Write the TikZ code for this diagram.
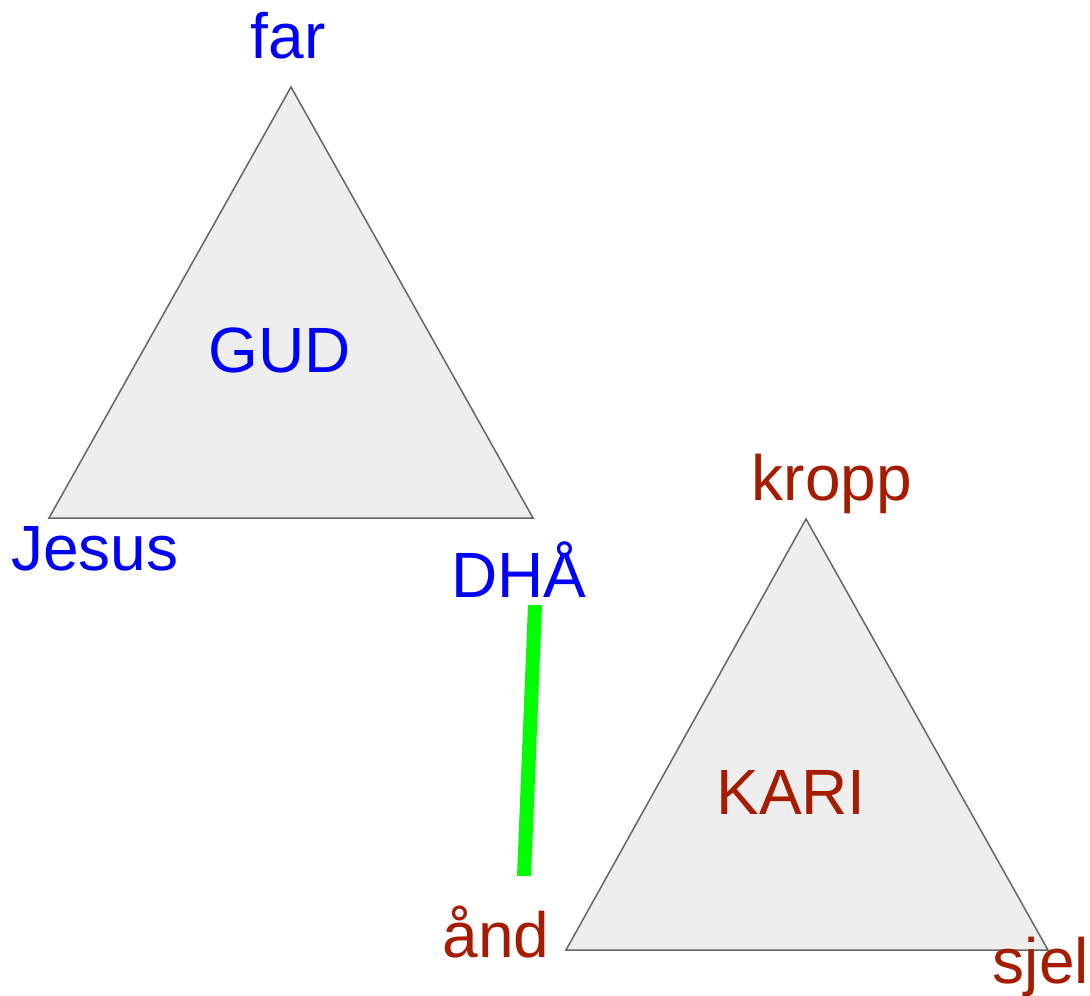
\documentclass[tikz,border=0pt]{standalone}
\usepackage{fontspec}
\setmainfont{Liberation Sans}
\definecolor{godblue}{HTML}{0000FF}
\definecolor{humanred}{HTML}{A61C00}
\definecolor{trifill}{HTML}{EEEEEE}
\definecolor{tristroke}{HTML}{666666}
\definecolor{linkgreen}{HTML}{00FF00}
\tikzset{
  tri/.style={fill=trifill, draw=tristroke, line width=1.5pt, line join=miter},
  lbl/.style={anchor=base, inner sep=0pt, font=\fontsize{64}{70}\selectfont},
  godlbl/.style={lbl, text=godblue},
  humlbl/.style={lbl, text=humanred},
  link/.style={draw=linkgreen, line width=14pt, line cap=butt}
}
\begin{document}
\begin{tikzpicture}[x=1pt,y=-1pt]
\useasboundingbox (0,0) rectangle (1090,996);
% triangle GUD
\coordinate (gA) at (291,87);
\coordinate (gL) at (49,518);
\coordinate (gR) at (533,518);
\path[tri] (gA) -- (gL) -- (gR) -- cycle;
% triangle KARI
\coordinate (kA) at (806,519);
\coordinate (kL) at (566,950);
\coordinate (kR) at (1048,950);
\path[tri] (kA) -- (kL) -- (kR) -- cycle;
% labels
\node[godlbl] (far) at (288,58) {far};
\node[godlbl] (gud) at (280,372) {GUD};
\node[godlbl] (jesus) at (95,570) {Jesus};
\node[godlbl] (dha) at (519,597) {DHÅ};
\node[humlbl] (kropp) at (832,500) {kropp};
\node[humlbl] (kari) at (791,814) {KARI};
\node[humlbl] (and) at (496,957) {ånd};
\node[humlbl] (sjel) at (1041,983) {sjel};
% link
\coordinate (linkTop) at (535,605);
\coordinate (linkBot) at (524,876);
\draw[link] (linkTop) -- (linkBot);
\end{tikzpicture}
\end{document}
